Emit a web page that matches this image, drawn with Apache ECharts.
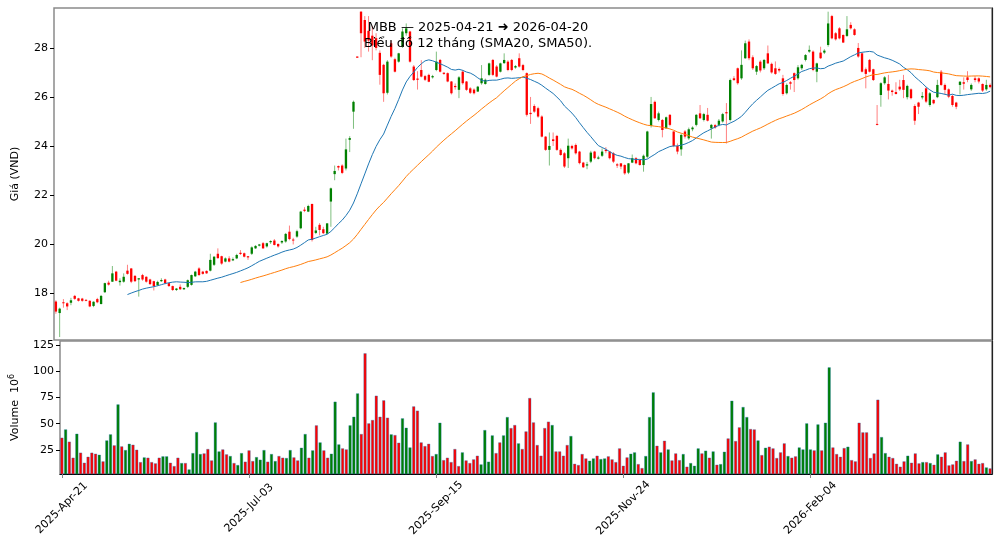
<!DOCTYPE html>
<html>
<head>
<meta charset="utf-8">
<script src="https://cdn.jsdelivr.net/npm/echarts@6/dist/echarts.min.js"></script>
<style>
  html, body { margin: 0; padding: 0; background: #fff; }
  #chart { width: 1000px; height: 547px; }
</style>
</head>
<body>
<div id="chart"></div>
<script>
// MBB daily prices, 2025-04-21 .. 2026-04-20 (249 sessions)
const startDate = "2025-04-21";
const endDate = "2026-04-20";
const holidays = ["2025-04-30", "2025-05-01", "2025-05-02", "2025-09-01", "2025-09-02",
  "2026-01-01", "2026-01-02", "2026-02-16", "2026-02-17", "2026-02-18", "2026-02-19", "2026-02-20"];

const opens = [
  17.65, 17.18, 17.62, 17.58, 17.6, 17.88, 17.78, 17.77, 17.72, 17.68,
  17.47, 17.75, 17.55, 18.03, 18.42, 18.46, 18.87, 18.44, 18.46, 18.91,
  19.0, 18.7, 18.55, 18.73, 18.66, 18.55, 18.48, 18.32, 18.48, 18.55,
  18.4, 18.28, 18.12, 18.25, 18.15, 18.25, 18.33, 18.68, 19.0, 18.87,
  18.9, 18.91, 19.15, 19.6, 19.5, 19.28, 19.41, 19.33, 19.41, 19.64,
  19.62, 19.5, 19.6, 19.82, 19.93, 20.03, 19.9, 20.07, 20.14, 20.0,
  20.06, 20.1, 20.5, 20.18, 20.3, 20.64, 21.4, 21.32, 21.63, 20.45,
  20.78, 20.6, 20.42, 21.73, 22.85, 23.18, 23.2, 23.08, 24.25, 25.4,
  27.65, 29.48, 29.14, 28.7, 28.5, 28.4, 27.8, 27.31, 26.17, 28.19,
  27.54, 27.44, 28.05, 28.6, 28.67, 27.24, 26.75, 27.1, 26.85, 26.9,
  26.8, 27.1, 27.51, 26.99, 26.97, 26.63, 26.45, 26.29, 27.03, 26.63,
  26.35, 26.3, 26.22, 26.56, 26.53, 26.9, 27.51, 27.24, 27.03, 27.38,
  27.44, 27.51, 27.2, 27.58, 27.3, 26.97, 25.35, 25.63, 25.54, 25.2,
  24.38, 23.84, 24.27, 24.41, 23.84, 23.7, 23.5, 24.0, 24.04, 23.77,
  23.32, 23.2, 23.36, 23.77, 23.48, 23.6, 23.84, 23.77, 23.7, 23.25,
  23.29, 23.22, 22.91, 23.32, 23.5, 23.43, 23.22, 23.56, 24.82, 25.8,
  25.06, 25.06, 24.72, 25.27, 24.59, 24.0, 23.86, 24.59, 24.31, 24.68,
  24.86, 25.33, 25.06, 25.27, 24.72, 24.85, 24.86, 25.0, 25.38, 25.06,
  26.76, 27.17, 26.76, 27.58, 28.26, 27.62, 27.03, 27.44, 27.17, 27.78,
  27.35, 27.17, 27.14, 26.76, 26.15, 26.6, 26.97, 26.76, 27.17, 27.51,
  27.85, 27.85, 27.03, 27.81, 27.81, 28.12, 29.3, 28.6, 28.8, 28.53,
  28.49, 28.94, 28.76, 28.0, 27.78, 27.13, 27.51, 27.13, 24.9, 26.08,
  26.56, 26.53, 26.26, 26.2, 26.42, 26.69, 25.99, 26.31, 25.63, 25.77,
  25.98, 26.35, 25.67, 25.88, 25.99, 27.03, 26.49, 26.31, 26.04, 25.77,
  26.49, 26.6, 26.8, 26.31, 26.76, 26.76, 26.53, 26.31, 26.49
];
const closes = [
  17.24, 17.36, 17.58, 17.45, 17.7, 17.76, 17.68, 17.68, 17.68, 17.45,
  17.64, 17.62, 17.88, 18.4, 18.34, 18.8, 18.5, 18.5, 18.66, 18.78,
  18.46, 18.48, 18.6, 18.55, 18.46, 18.36, 18.28, 18.45, 18.53, 18.4,
  18.28, 18.12, 18.18, 18.15, 18.2, 18.52, 18.73, 18.87, 18.73, 18.78,
  18.8, 19.35, 19.48, 19.42, 19.2, 19.41, 19.28, 19.38, 19.55, 19.59,
  19.48, 19.45, 19.86, 19.92, 19.98, 19.82, 20.03, 20.12, 19.96, 19.9,
  20.12, 20.41, 20.2, 20.14, 20.52, 21.32, 21.35, 21.55, 20.16, 20.55,
  20.57, 20.44, 20.84, 22.27, 22.98, 23.12, 22.9, 23.86, 24.32, 25.8,
  27.6, 28.6, 28.26, 28.3, 28.1, 28.0, 26.9, 26.15, 27.44, 27.65,
  27.03, 27.78, 28.67, 28.8, 27.44, 26.69, 26.7, 26.83, 26.7, 26.62,
  26.85, 27.44, 27.03, 26.94, 26.63, 26.15, 26.4, 26.8, 26.56, 26.29,
  26.17, 26.15, 26.42, 26.76, 26.7, 27.37, 26.9, 26.83, 27.37, 27.51,
  27.1, 27.1, 27.26, 27.24, 27.1, 25.27, 25.3, 25.4, 25.2, 24.38,
  23.84, 24.0, 24.2, 23.84, 23.63, 23.16, 24.01, 23.9, 23.7, 23.3,
  23.13, 23.25, 23.73, 23.5, 23.53, 23.77, 23.79, 23.5, 23.36, 23.2,
  23.16, 22.88, 23.29, 23.5, 23.29, 23.22, 23.6, 24.59, 25.71, 25.13,
  25.33, 24.65, 25.17, 24.86, 24.0, 23.77, 24.45, 24.38, 24.68, 24.75,
  25.27, 25.13, 25.3, 25.03, 24.86, 24.75, 25.03, 25.3, 25.33, 26.69,
  26.69, 26.56, 27.31, 28.19, 27.58, 27.17, 27.26, 27.08, 27.51, 27.37,
  27.0, 26.94, 27.08, 26.12, 26.49, 26.54, 26.69, 27.21, 27.31, 27.71,
  27.92, 27.1, 27.37, 27.58, 27.89, 29.0, 28.39, 28.35, 28.39, 28.22,
  28.76, 28.8, 28.53, 27.65, 27.03, 26.94, 27.03, 26.69, 24.86, 26.56,
  26.8, 26.26, 26.2, 26.12, 26.31, 26.29, 26.45, 25.95, 25.03, 25.6,
  26.04, 25.81, 26.15, 25.74, 26.49, 26.49, 26.29, 26.01, 25.67, 25.6,
  26.62, 26.54, 26.69, 26.49, 26.69, 26.63, 26.26, 26.49, 26.4
];
const highs = [
  17.7, 17.4, 17.75, 17.62, 17.8, 17.92, 17.8, 17.8, 17.74, 17.7,
  17.66, 17.8, 17.92, 18.42, 18.5, 19.1, 18.9, 18.6, 18.8, 19.15,
  19.02, 18.72, 18.6, 18.78, 18.68, 18.58, 18.5, 18.5, 18.6, 18.58,
  18.42, 18.3, 18.2, 18.35, 18.22, 18.55, 18.75, 18.9, 19.05, 18.9,
  18.92, 19.6, 19.5, 19.82, 19.52, 19.45, 19.5, 19.45, 19.6, 19.75,
  19.65, 19.5, 19.9, 19.95, 20.0, 20.08, 20.05, 20.15, 20.2, 20.02,
  20.15, 20.45, 20.75, 20.25, 20.58, 21.35, 21.5, 21.6, 21.65, 20.7,
  20.85, 20.7, 20.85, 22.3, 23.2, 23.2, 23.25, 24.3, 24.4, 25.85,
  27.65, 29.5, 29.3, 29.3, 28.9, 28.6, 27.9, 27.35, 27.5, 28.3,
  27.6, 27.8, 28.8, 29.0, 28.7, 27.3, 27.05, 27.5, 26.9, 26.95,
  26.9, 27.85, 27.55, 27.0, 27.0, 26.65, 26.55, 26.85, 27.1, 26.65,
  26.4, 26.35, 26.45, 27.3, 26.75, 27.4, 27.55, 27.3, 27.4, 27.78,
  27.5, 27.55, 27.3, 27.78, 27.35, 27.0, 26.0, 25.7, 25.6, 25.25,
  24.4, 24.55, 24.55, 24.45, 23.9, 23.75, 24.3, 24.05, 24.1, 23.8,
  23.35, 23.35, 23.8, 23.8, 23.6, 23.9, 23.95, 23.8, 23.75, 23.3,
  23.3, 23.25, 23.3, 23.65, 23.55, 23.45, 23.65, 24.62, 26.0, 25.85,
  25.4, 25.1, 25.2, 25.3, 24.6, 24.1, 24.5, 24.65, 24.75, 24.8,
  25.3, 25.67, 25.35, 25.55, 24.9, 24.9, 25.1, 25.35, 25.75, 26.75,
  26.85, 27.2, 27.9, 28.3, 28.35, 27.7, 27.3, 27.5, 27.55, 28.1,
  27.4, 27.45, 27.2, 26.9, 26.55, 26.65, 27.0, 27.3, 27.35, 27.75,
  28.1, 27.9, 27.4, 28.05, 27.95, 29.48, 29.35, 28.65, 28.85, 28.55,
  29.3, 29.05, 28.8, 28.2, 27.8, 27.2, 27.55, 27.15, 25.67, 26.6,
  26.85, 26.9, 26.3, 26.6, 26.7, 26.9, 26.5, 26.35, 25.7, 25.8,
  26.2, 26.4, 26.2, 25.9, 26.7, 27.1, 26.55, 26.35, 26.1, 25.8,
  26.65, 26.8, 27.05, 26.55, 26.85, 26.8, 26.55, 26.7, 26.55
];
const lows = [
  17.15, 16.2, 17.4, 17.3, 17.5, 17.72, 17.65, 17.64, 17.66, 17.42,
  17.42, 17.58, 17.53, 18.0, 18.3, 18.45, 18.48, 18.3, 18.42, 18.75,
  18.4, 18.45, 17.85, 18.5, 18.42, 18.33, 18.1, 18.28, 18.45, 18.35,
  18.25, 18.08, 18.08, 18.12, 18.12, 18.2, 18.3, 18.65, 18.7, 18.75,
  18.78, 18.88, 19.1, 19.4, 19.15, 19.25, 19.25, 19.3, 19.38, 19.55,
  19.45, 19.35, 19.55, 19.8, 19.9, 19.8, 19.85, 20.0, 19.94, 19.85,
  20.0, 20.05, 20.15, 19.98, 20.25, 20.6, 21.3, 21.3, 20.1, 20.4,
  20.35, 20.4, 20.4, 20.7, 22.6, 23.0, 22.85, 23.0, 23.75, 24.7,
  27.6, 27.62, 28.0, 27.85, 27.5, 27.9, 26.5, 25.8, 26.1, 27.6,
  27.0, 27.4, 28.0, 28.5, 27.4, 26.65, 26.3, 26.8, 26.65, 26.6,
  26.75, 27.05, 27.0, 26.9, 26.6, 26.1, 26.3, 25.95, 26.5, 26.25,
  26.12, 26.1, 26.2, 26.5, 26.5, 26.85, 26.85, 26.8, 27.0, 27.35,
  27.05, 27.05, 27.15, 27.2, 27.05, 25.2, 24.9, 25.35, 25.15, 24.35,
  23.8, 23.2, 24.0, 23.8, 23.6, 23.1, 23.1, 23.85, 23.65, 23.25,
  23.1, 23.05, 23.3, 23.45, 23.45, 23.55, 23.7, 23.45, 23.3, 23.1,
  23.05, 22.82, 22.85, 23.3, 23.25, 23.2, 22.95, 23.5, 24.75, 25.1,
  25.0, 24.35, 24.7, 24.8, 23.95, 23.66, 23.6, 24.3, 24.25, 24.6,
  24.8, 25.1, 25.0, 25.0, 24.3, 24.7, 24.8, 24.95, 24.1, 25.0,
  26.65, 26.5, 26.7, 27.55, 27.5, 27.1, 26.9, 27.0, 27.1, 27.35,
  26.95, 26.9, 27.0, 26.05, 26.1, 26.3, 26.2, 26.7, 27.1, 27.45,
  27.8, 27.05, 26.6, 27.55, 27.75, 28.05, 28.35, 28.3, 28.35, 28.2,
  28.45, 28.75, 28.5, 27.6, 27.0, 26.35, 27.0, 26.65, 24.84, 25.6,
  26.5, 25.9, 26.05, 26.1, 26.25, 25.95, 25.9, 25.9, 24.86, 25.3,
  25.9, 25.75, 25.6, 25.7, 25.95, 26.45, 26.1, 25.95, 25.6, 25.5,
  26.1, 26.3, 26.6, 26.25, 26.6, 26.55, 26.2, 26.25, 26.35
];
// volume in millions of shares
const volumes = [
  36.8, 44.7, 33, 17.7, 40.6, 22.5, 12.9, 18.6, 22.5, 21.5,
  20.5, 14.2, 34.2, 40, 29.5, 68.6, 28.5, 25, 31, 30.1,
  25.3, 13.5, 18, 17.7, 13.5, 12.3, 17.7, 19, 19, 12.9,
  9.7, 17.7, 12.6, 12.6, 6.5, 22.1, 42.2, 21.2, 21.8, 26,
  15.1, 51.4, 23.7, 25.6, 20.9, 19.3, 12.6, 10.7, 22.1, 13.9,
  24.7, 14.5, 18.3, 15.8, 25, 13.9, 21.2, 14.5, 19.3, 17.7,
  17.4, 25, 18, 15.1, 27.2, 40.3, 17.7, 24.7, 48.6, 32.3,
  24.7, 17.7, 21.5, 71.2, 30.4, 26.6, 25.6, 48.6, 56.8, 79.1,
  40.3, 117.4, 50.5, 53.7, 76.9, 56.8, 72.5, 55.9, 40, 39.3,
  32, 55.3, 46.3, 27.5, 66.7, 62.6, 32.3, 28.8, 31, 19.3,
  21.2, 51.1, 15.4, 17.7, 13.5, 26, 9.7, 22.8, 15.1, 12.6,
  16.1, 19.6, 11.3, 44.1, 13.9, 39, 22.1, 32.3, 39, 56.5,
  46, 48.9, 31.4, 26, 42.8, 74.7, 51.4, 29.8, 19.6, 46,
  52.1, 48.9, 23.7, 23.7, 19.6, 29.8, 38.4, 11.9, 10.7, 21.2,
  17, 14.8, 17, 19.6, 16.4, 17, 19, 16.1, 13.5, 26.6,
  10, 18, 21.5, 22.8, 11.6, 7.8, 19.3, 56.5, 80.1, 29.1,
  22.8, 33.9, 25.6, 15.1, 21.8, 15.4, 21.2, 9.1, 12.6, 10,
  26.6, 21.8, 24.4, 17.7, 23.7, 11, 11.6, 23.4, 36.1, 72.1,
  33.6, 46.7, 66.1, 56.5, 45.1, 44.7, 34.2, 20.2, 27.2, 28.2,
  26.6, 17.4, 22.8, 31.4, 19.3, 17.7, 19, 27.5, 25.6, 50.5,
  25.6, 24.7, 49.5, 24.7, 51.1, 104, 27.5, 21.2, 18.6, 26.9,
  28.2, 15.4, 14.2, 51.1, 41.9, 41.9, 17.4, 21.8, 73.1, 37.4,
  22.1, 18.6, 17.4, 11.9, 9.1, 14.2, 19.6, 12.9, 21.8, 12.3,
  13.5, 13.5, 12.6, 11, 20.9, 18.6, 22.8, 10.4, 11.3, 14.8,
  33, 14.5, 30.4, 14.5, 16.1, 11.9, 12.6, 8.4, 7.5
];

const priceTicks = [18, 20, 22, 24, 26, 28];
const volumeTicks = [25, 50, 75, 100, 125];
const labelEvery = 50;

// trading days (weekdays minus exchange holidays)
const months = ["Jan", "Feb", "Mar", "Apr", "May", "Jun", "Jul", "Aug", "Sep", "Oct", "Nov", "Dec"];
const days = [];
for (let d = new Date(startDate + "T00:00:00Z"); d <= new Date(endDate + "T00:00:00Z"); d.setUTCDate(d.getUTCDate() + 1)) {
  const iso = d.toISOString().slice(0, 10);
  const wd = d.getUTCDay();
  if (wd === 0 || wd === 6 || holidays.includes(iso)) continue;
  days.push(iso.slice(0, 4) + "-" + months[d.getUTCMonth()] + "-" + iso.slice(8, 10));
}

function sma(values, n) {
  return values.map((v, i) => {
    if (i < n - 1) return null;
    let s = 0;
    for (let k = i - n + 1; k <= i; k++) s += values[k];
    return +(s / n).toFixed(3);
  });
}
const sma20 = sma(closes, 20);
const sma50 = sma(closes, 50);

const UP = "#008000", DOWN = "#ff0000";
const UP_WICK = "#7fbf7f", DOWN_WICK = "#ff8080";
const FONT = "DejaVu Sans";

const candles = opens.map((o, i) => [i, o, closes[i], lows[i], highs[i]]);

// right-hand frame edge (drawn darker than the others in the original)
const rightEdge = (gi) => ({
  type: "value", gridIndex: gi, position: "right",
  axisLine: { show: true, onZero: false, lineStyle: { color: "#222", width: 1.2 } },
  axisTick: { show: false }, axisLabel: { show: false }, splitLine: { show: false }
});

const chart = echarts.init(document.getElementById("chart"), null, { renderer: "canvas" });
chart.setOption({
  animation: false,
  backgroundColor: "#fff",
  textStyle: { fontFamily: FONT },
  graphic: [{
    type: "text",
    x: 478,
    y: 20,
    z: 100,
    style: {
      text: "MBB — 2025-04-21 ➜ 2026-04-20\nBiểu đồ 12 tháng (SMA20, SMA50).",
      textAlign: "center",
      fontFamily: FONT,
      fontSize: 13,
      lineHeight: 16,
      fill: "#000"
    }
  }],
  grid: [
    { left: 54, right: 8, top: 8, height: 332, show: true, borderColor: "#8a8a8a", borderWidth: 1.5 },
    { left: 54, right: 8, top: 341, height: 133, show: true, borderColor: "#8a8a8a", borderWidth: 1.5 }
  ],
  xAxis: [
    {
      type: "category", gridIndex: 0, data: days, boundaryGap: true,
      axisLine: { show: false }, axisTick: { show: false }, axisLabel: { show: false }
    },
    {
      type: "category", gridIndex: 1, data: days, boundaryGap: true,
      axisLine: { show: true, lineStyle: { color: "#000", width: 1.2 } },
      axisTick: { show: true, alignWithLabel: true, length: 4, lineStyle: { color: "#888" },
        interval: (i) => i % labelEvery === 0 },
      axisLabel: {
        interval: (i) => i % labelEvery === 0,
        rotate: 45, align: "center", verticalAlign: "middle", margin: 34,
        fontSize: 11, color: "#000", fontFamily: FONT
      }
    }
  ],
  yAxis: [
    {
      type: "value", gridIndex: 0, min: 16.08, max: 29.63,
      name: "Giá (VND)", nameLocation: "middle", nameRotate: 90, nameGap: 33,
      nameTextStyle: { fontSize: 11, color: "#000", fontFamily: FONT },
      axisLine: { show: false },
      axisTick: { show: true, length: 4, lineStyle: { color: "#000" }, customValues: priceTicks },
      axisLabel: { fontSize: 11, color: "#000", margin: 6, customValues: priceTicks },
      splitLine: { show: false }
    },
    {
      type: "value", gridIndex: 1, min: 2, max: 129,
      name: "Volume  10{sup|6}", nameLocation: "middle", nameRotate: 90, nameGap: 38,
      nameTextStyle: { fontSize: 11, color: "#000", fontFamily: FONT,
        rich: { sup: { fontSize: 8, verticalAlign: "top", padding: [0, 0, 6, 0], color: "#000" } } },
      axisLine: { show: false },
      axisTick: { show: true, length: 4, lineStyle: { color: "#000" }, customValues: volumeTicks },
      axisLabel: { fontSize: 11, color: "#000", margin: 6, customValues: volumeTicks },
      splitLine: { show: false }
    },
    rightEdge(0),
    rightEdge(1)
  ],
  series: [
    {
      name: "OHLC",
      type: "custom",
      xAxisIndex: 0, yAxisIndex: 0,
      data: candles,
      encode: { x: 0, y: [1, 2, 3, 4] },
      clip: true,
      z: 3,
      renderItem: function (params, api) {
        const i = api.value(0);
        const o = api.value(1), c = api.value(2), l = api.value(3), h = api.value(4);
        const pO = api.coord([i, o]), pC = api.coord([i, c]);
        const pL = api.coord([i, l]), pH = api.coord([i, h]);
        const w = api.size([1, 0])[0] * 0.62;
        const up = c >= o;
        const top = Math.min(pO[1], pC[1]);
        const hgt = Math.max(Math.abs(pO[1] - pC[1]), 1);
        return {
          type: "group",
          children: [
            { type: "line", shape: { x1: pL[0], y1: pL[1], x2: pH[0], y2: pH[1] },
              style: { stroke: up ? UP_WICK : DOWN_WICK, lineWidth: 1 } },
            { type: "rect", shape: { x: pO[0] - w / 2, y: top, width: w, height: hgt },
              style: { fill: up ? UP : DOWN } }
          ]
        };
      }
    },
    {
      name: "SMA20", type: "line", xAxisIndex: 0, yAxisIndex: 0, data: sma20,
      showSymbol: false, connectNulls: false, z: 4,
      lineStyle: { color: "#1f77b4", width: 1 }
    },
    {
      name: "SMA50", type: "line", xAxisIndex: 0, yAxisIndex: 0, data: sma50,
      showSymbol: false, connectNulls: false, z: 4,
      lineStyle: { color: "#ff7f0e", width: 1 }
    },
    {
      name: "Volume", type: "bar", xAxisIndex: 1, yAxisIndex: 1, data: volumes,
      barCategoryGap: "12%",
      itemStyle: {
        color: (p) => (closes[p.dataIndex] >= opens[p.dataIndex] ? UP : DOWN),
        borderColor: "rgba(31,119,180,0.45)", borderWidth: 0.8
      }
    }
  ]
});
</script>
</body>
</html>
